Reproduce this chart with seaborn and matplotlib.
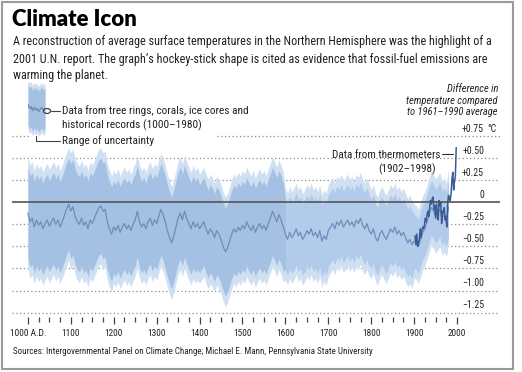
import numpy as np
import matplotlib
matplotlib.use("Agg")
import matplotlib.pyplot as plt
import matplotlib.transforms as mtransforms
from matplotlib import font_manager
import seaborn as sns
from matplotlib.patches import Rectangle, Circle
from matplotlib.lines import Line2D

# Dados (anomalia em °C, média 1961-1990)
anos_recon = list(range(1000, 1985, 5))
recon = [
    -0.12, -0.22, -0.18, -0.28, -0.20, -0.26, -0.22, -0.30, -0.24, -0.20,
    -0.27, -0.22, -0.18, -0.25, -0.20, -0.28, -0.22, -0.15, -0.08, -0.02,
    -0.10, -0.05, -0.16, -0.22, -0.25, -0.18, -0.26, -0.22, -0.30, -0.20,
    -0.24, -0.18, -0.12, -0.06, -0.04, -0.10, -0.08, -0.22, -0.30, -0.36,
    -0.28, -0.32, -0.26, -0.34, -0.28, -0.24, -0.30, -0.26, -0.32, -0.25,
    -0.20, -0.10, -0.22, -0.28, -0.24, -0.30, -0.22, -0.18, -0.26, -0.20,
    -0.24, -0.16, -0.08, -0.14, -0.22, -0.32, -0.40, -0.46, -0.38, -0.28,
    -0.18, -0.12, -0.20, -0.10, -0.18, -0.24, -0.30, -0.22, -0.28, -0.24,
    -0.30, -0.26, -0.22, -0.30, -0.36, -0.30, -0.34, -0.40, -0.32, -0.36,
    -0.42, -0.50, -0.56, -0.52, -0.44, -0.36, -0.30, -0.34, -0.28, -0.32,
    -0.26, -0.30, -0.22, -0.28, -0.32, -0.26, -0.34, -0.28, -0.24, -0.30,
    -0.26, -0.32, -0.24, -0.18, -0.10, -0.16, -0.22, -0.14, -0.20, -0.28,
    -0.36, -0.42, -0.34, -0.40, -0.36, -0.30, -0.38, -0.34, -0.42, -0.38,
    -0.32, -0.36, -0.30, -0.38, -0.34, -0.40, -0.32, -0.44, -0.38, -0.42,
    -0.32, -0.28, -0.24, -0.30, -0.22, -0.26, -0.20, -0.28, -0.24, -0.20,
    -0.26, -0.22, -0.28, -0.20, -0.24, -0.18, -0.26, -0.30, -0.24, -0.32,
    -0.36, -0.30, -0.40, -0.44, -0.36, -0.32, -0.38, -0.42, -0.36, -0.30,
    -0.34, -0.28, -0.36, -0.32, -0.38, -0.34, -0.40, -0.46, -0.42, -0.48,
    -0.44, -0.46, -0.50, -0.42, -0.34, -0.30, -0.22, -0.14, -0.06, -0.10,
    -0.16, -0.12, -0.08, -0.18, -0.14, -0.20, -0.06,
]
# meia largura da faixa de incerteza, por século (1000s ... 1900s)
incerteza_seculo = [0.52, 0.54, 0.52, 0.52, 0.50, 0.50, 0.40, 0.40, 0.38, 0.30]

anos_termo = list(range(1902, 2000, 2))
termo = [
    -0.38, -0.48, -0.36, -0.50, -0.46, -0.42, -0.30, -0.40, -0.32, -0.28,
    -0.30, -0.26, -0.18, -0.22, -0.14, -0.10, -0.16, -0.06, 0.02, -0.02,
    0.04, 0.06, -0.08, -0.04, -0.18, -0.02, -0.14, -0.20, 0.02, -0.04,
    0.00, -0.24, -0.10, -0.12, -0.06, -0.20, -0.16, -0.28, -0.02, 0.08,
    0.04, 0.02, 0.10, 0.26, 0.34, 0.14, 0.24, 0.30, 0.62,
]

y_grade = [0.75, 0.50, 0.25, -0.25, -0.50, -0.75, -1.00, -1.25]
y_rotulos = ["+0.75", "+0.50", "+0.25", "0", "\u22120.25", "\u22120.50",
             "\u22120.75", "\u22121.00", "\u22121.25"]
y_valores_rot = [0.75, 0.50, 0.25, 0.0, -0.25, -0.50, -0.75, -1.00, -1.25]
x_ticks = list(range(1000, 2001, 100))
x_rotulos = ["1000 A.D."] + [str(a) for a in range(1100, 2001, 100)]

# Cores
COR_FAIXA = "#a4c0e3"
COR_FAIXA_B = "#b3cbea"
COR_FAIXA_CLARA = "#d0e0f3"
COR_LINHA = "#6f8db9"
COR_TERMO = "#3a5c96"
COR_TEXTO = "#222222"

sns.set_theme(style="white")

# Procura uma fonte estreita instalada
nomes = {f.name for f in font_manager.fontManager.ttflist}
condensada = any(f.name == "DejaVu Sans" and "condensed" in str(f.stretch)
                 for f in font_manager.fontManager.ttflist)
familia = None
for cand in ["Liberation Sans Narrow", "Roboto Condensed", "Open Sans Condensed"]:
    if cand in nomes:
        familia = cand
        break
if familia is None:
    if condensada:
        familia = "DejaVu Sans"
        plt.rcParams["font.stretch"] = "condensed"
    elif "Roboto" in nomes:
        familia = "Roboto"
    else:
        familia = "Liberation Sans"
plt.rcParams["font.family"] = [familia, "DejaVu Sans"]

W, H = 522, 372
fig = plt.figure(figsize=(W / 100, H / 100), dpi=100)
renderer = fig.canvas.get_renderer()


def fx(px):
    return px / W


def fy(py):
    return 1 - py / H


def ajustar(texto, largura_px):
    # ajusta o tamanho da fonte para ocupar a largura desejada
    larg = texto.get_window_extent(renderer=renderer).width
    texto.set_fontsize(texto.get_fontsize() * largura_px / larg)
    return texto.get_fontsize()


# Moldura
fig.patches.append(Rectangle((fx(1.5), fy(368.5)), fx(511), 367 / H,
                             transform=fig.transFigure, fill=False,
                             edgecolor="#9a9a9a", linewidth=1.5))

# Título e texto
titulo = fig.text(fx(12), fy(19), "Climate Icon", fontsize=15, fontweight="heavy",
                  family=["Lato", "DejaVu Sans"], color="black", va="center")
ajustar(titulo, 126)
linhas_sub = [
    "A reconstruction of average surface temperatures in the Northern Hemisphere was the highlight of a",
    "2001 U.N. report. The graph\u2019s hockey-stick shape is cited as evidence that fossil-fuel emissions are",
    "warming the planet.",
]
t0 = fig.text(fx(13), fy(42), linhas_sub[0], fontsize=9, color=COR_TEXTO, va="center")
tam_sub = ajustar(t0, 477)
for i, lin in enumerate(linhas_sub[1:]):
    fig.text(fx(13), fy(59 + 17 * i), lin, fontsize=tam_sub, color=COR_TEXTO, va="center")

# Eixo principal
ax = fig.add_axes([fx(12), fy(317), fx(488), 232 / H])
ax.set_xlim(963, 2100)
ax.set_ylim(-1.30, 1.33)

anos = np.array(anos_recon)
centro = np.array(recon)
meia = np.array([incerteza_seculo[(a - 1000) // 100] for a in anos_recon])

ax.fill_between(anos, centro - meia - 0.12, centro + meia + 0.12,
                color=COR_FAIXA_CLARA, linewidth=0, zorder=2)
ax.fill_between(anos, centro - meia, centro + meia,
                color=COR_FAIXA, linewidth=0, zorder=3)
depois = anos >= 1600
ax.fill_between(anos[depois], centro[depois] - meia[depois], centro[depois] + meia[depois],
                color=COR_FAIXA_B, linewidth=0, zorder=3)
sns.lineplot(x=anos_recon, y=recon, ax=ax, color=COR_LINHA, linewidth=0.9,
             zorder=4)
sns.lineplot(x=anos_termo, y=termo, ax=ax, color=COR_TERMO, linewidth=1.1,
             zorder=5)

# Grade pontilhada
for v in y_grade:
    if v == 0.75:
        ax.axhline(v, xmin=0, xmax=18 / 488, color="#8c8c8c", linestyle=(0, (1, 2)),
                   linewidth=0.9, zorder=1)
        ax.axhline(v, xmin=205 / 488, xmax=1, color="#8c8c8c", linestyle=(0, (1, 2)),
                   linewidth=0.9, zorder=1)
    else:
        ax.axhline(v, color="#8c8c8c", linestyle=(0, (1, 2)), linewidth=0.9, zorder=1)
ax.axhline(0, color="#555555", linewidth=1.2, zorder=6)

# Rótulos do eixo y (acima da linha, à direita)
trans = mtransforms.blended_transform_factory(fig.transFigure, ax.transData)
ref = fig.text(fx(484), 0.5 + 0.025, "+0.50", transform=trans, fontsize=8,
               color=COR_TEXTO, ha="right", va="bottom")
tam_num = min(ajustar(ref, 22), 9)
ref.remove()
for v, r in zip(y_valores_rot, y_rotulos):
    fig.text(fx(484), v + 0.025, r, transform=trans, fontsize=tam_num,
             color=COR_TEXTO, ha="right", va="bottom")
fig.text(fx(487), 0.75 + 0.025, "\u00b0C", transform=trans, fontsize=tam_num,
         color=COR_TEXTO, ha="left", va="bottom")

cab = fig.text(fx(498), fy(84), "Difference in\ntemperature compared\nto 1961\u20131990 average",
               fontsize=7.5, style="italic", color=COR_TEXTO, ha="right", va="top",
               linespacing=1.2)
ajustar(cab, 92)

# Eixo x
ax.set_xticks(x_ticks)
ax.set_xticklabels(x_rotulos, fontsize=tam_num * 0.95, color=COR_TEXTO)
ax.set_xticks(list(range(1000, 2001, 25)), minor=True)
ax.set_yticks([])
ax.tick_params(axis="x", which="major", direction="out", length=5, width=0.9,
               color="#444444", pad=4, bottom=True)
ax.tick_params(axis="x", which="minor", direction="out", length=3.5, width=0.9,
               color="#444444", bottom=True)
for s in ax.spines.values():
    s.set_visible(False)
ax.set_xlabel("")
ax.set_ylabel("")

# Anotação termômetros
tt = fig.text(fx(440), fy(155), "Data from thermometers", fontsize=8.5,
              color=COR_TEXTO, ha="right", va="center")
tam_nota = ajustar(tt, 108)
fig.text(fx(436), fy(169), "(1902\u20131998)", fontsize=tam_nota,
         color=COR_TEXTO, ha="right", va="center")
fig.lines.append(Line2D([fx(442), fx(453)], [fy(154), fy(154)],
                        transform=fig.transFigure, color="#333333", linewidth=0.8))

# Legenda (ícone com um trecho da série)
ax_ic = fig.add_axes([fx(28), fy(137), fx(17), 55 / H])
n = 12
ax_ic.fill_between(anos[:n], centro[:n] - meia[:n] - 0.12, centro[:n] + meia[:n] + 0.12,
                   color=COR_FAIXA_CLARA, linewidth=0)
ax_ic.fill_between(anos[:n], centro[:n] - meia[:n], centro[:n] + meia[:n],
                   color=COR_FAIXA, linewidth=0)
ax_ic.plot(anos[:n], centro[:n], color=COR_LINHA, linewidth=1.0)
ax_ic.set_xlim(anos[0], anos[n - 1])
ax_ic.set_ylim(-0.95, 0.45)
ax_ic.axis("off")

fig.patches.append(Circle((fx(47), fy(111)), 3.5 / W, transform=fig.transFigure,
                          fill=False, edgecolor="#444444", linewidth=0.9))
fig.lines.append(Line2D([fx(50.5), fx(60)], [fy(111), fy(111)],
                        transform=fig.transFigure, color="#444444", linewidth=0.8))
fig.lines.append(Line2D([fx(36), fx(36), fx(60)], [fy(136), fy(141), fy(141)],
                        transform=fig.transFigure, color="#444444", linewidth=0.8))
lg = fig.text(fx(62), fy(111), "Data from tree rings, corals, ice cores and",
              fontsize=8.5, color=COR_TEXTO, va="center")
tam_leg = ajustar(lg, 186)
fig.text(fx(62), fy(125), "historical records (1000\u20131980)",
         fontsize=tam_leg, color=COR_TEXTO, va="center")
fig.text(fx(62), fy(141), "Range of uncertainty",
         fontsize=tam_leg, color=COR_TEXTO, va="center")

# Fonte
fonte = fig.text(fx(13), fy(351), "Sources: Intergovernmental Panel on Climate Change; "
                 "Michael E. Mann, Pennsylvania State University",
                 fontsize=6.6, color=COR_TEXTO, va="center")
ajustar(fonte, 360)

fig.savefig("out.png", dpi=100)
